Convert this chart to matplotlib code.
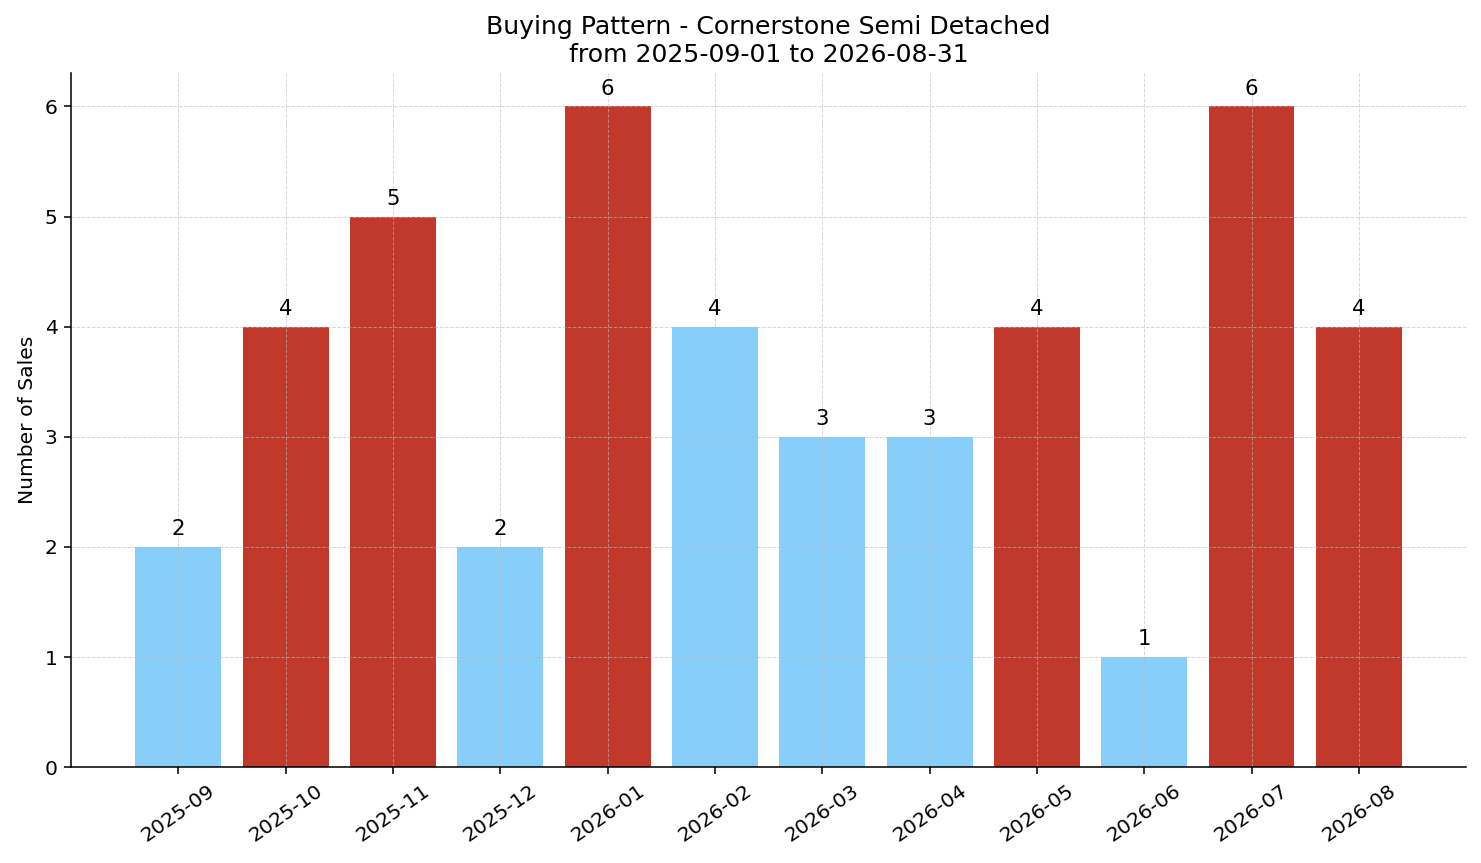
import matplotlib
matplotlib.use('Agg')
import matplotlib.pyplot as plt

months = ['2025-09', '2025-10', '2025-11', '2025-12', '2026-01', '2026-02',
          '2026-03', '2026-04', '2026-05', '2026-06', '2026-07', '2026-08']
sales = [2, 4, 5, 2, 6, 4, 3, 3, 4, 1, 6, 4]
highlight = [False, True, True, False, True, False, False, False, True, False, True, True]

red = '#c0392b'
blue = '#87cefa'
colors = [red if h else blue for h in highlight]

dpi = 139
fig, ax = plt.subplots(figsize=(1481 / dpi, 863 / dpi), dpi=dpi)
x = range(len(months))
bars = ax.bar(x, sales, color=colors, width=0.8)

for b, v in zip(bars, sales):
    ax.text(b.get_x() + b.get_width() / 2, v + 0.07, str(v),
            ha='center', va='bottom', fontsize=11)

ax.set_xticks(list(x))
ax.set_xticklabels(months, rotation=35, fontsize=10.5)
ax.tick_params(axis='y', labelsize=10.5)
ax.set_xlim(-1, 12)
ax.set_ylim(0, 6.3)
ax.set_ylabel('Number of Sales', fontsize=10.5)
ax.set_title('Buying Pattern - Cornerstone Semi Detached\nfrom 2025-09-01 to 2026-08-31', fontsize=13)
ax.grid(True, linestyle='--', color='#bbbbbb', alpha=0.6, linewidth=0.5)
ax.spines['top'].set_visible(False)
ax.spines['right'].set_visible(False)

plt.subplots_adjust(left=0.048, right=0.99, top=0.915, bottom=0.111)
plt.savefig('out.png', dpi=dpi)
